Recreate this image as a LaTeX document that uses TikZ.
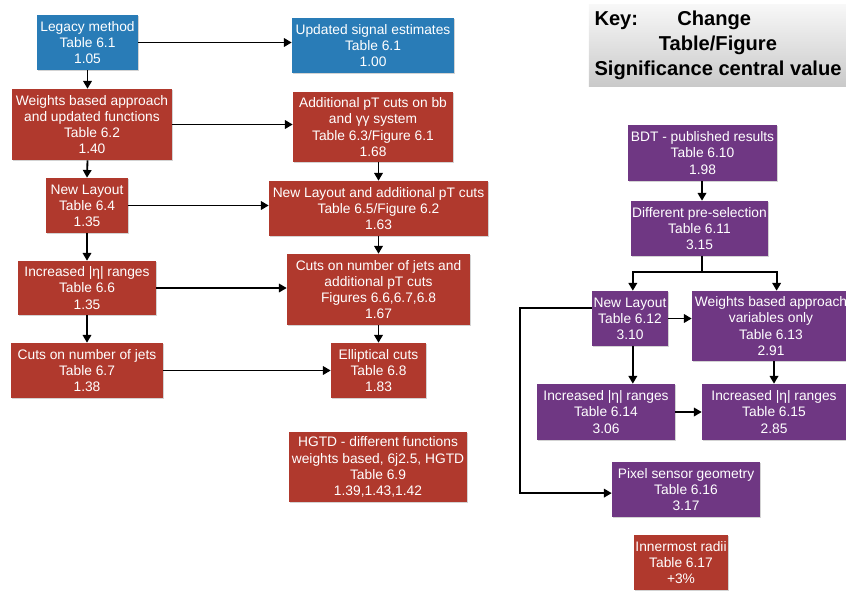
\documentclass[tikz,border=0pt]{standalone}
\usepackage{fontspec}
\setmainfont{Liberation Sans}
\usetikzlibrary{arrows.meta,shadows}
\definecolor{legacy}{RGB}{41,124,183}
\definecolor{cutbased}{RGB}{176,57,45}
\definecolor{bdt}{RGB}{111,55,131}
\newcommand{\pxu}{0.025cm}
\tikzset{
  box/.style={text=white, align=center, inner sep=1pt,
    font=\fontsize{9.8}{11.5}\selectfont,
    drop shadow={shadow xshift=0.8pt, shadow yshift=-1pt, opacity=0.35}},
  sz/.style 2 args={minimum width=#1*\pxu, minimum height=#2*\pxu},
  link/.style={-{Triangle[length=5.5pt,width=6pt]}, line width=1.3pt},
}

\begin{document}
\begin{tikzpicture}[x=\pxu,y=-\pxu]
  \useasboundingbox (0,0) rectangle (846,591);

  % key
  \node[top color=gray!6, bottom color=gray!42, sz={256}{81}, align=left,
        inner xsep=4pt, font=\fontsize{14.3}{17.8}\selectfont\bfseries,
        drop shadow={shadow xshift=0.8pt, shadow yshift=-1pt, opacity=0.3}]
    (key) at (718,45.5)
    {Key:\hspace*{1.95em}Change\\\hspace*{3.2em}Table/Figure\\Significance central value};

  % cut based chain
  \node[box,fill=legacy,sz={101}{55}] (legacy) at (87.5,42.5) {Legacy method\\Table 6.1\\1.05};
  \node[box,fill=legacy,sz={162}{55}] (signal) at (373,45.5) {Updated signal estimates\\Table 6.1\\1.00};
  \node[box,fill=cutbased,sz={160}{71}] (weights) at (92,124.5) {Weights based approach\\and updated functions\\Table 6.2\\1.40};
  \node[box,fill=cutbased,sz={160}{70}] (ptcuts) at (373,127) {Additional pT cuts on bb\\and γγ system\\Table 6.3/Figure 6.1\\1.68};
  \node[box,fill=cutbased,sz={82}{55}] (layout) at (87,205.5) {New Layout\\Table 6.4\\1.35};
  \node[box,fill=cutbased,sz={219}{55}] (layoutpt) at (378.5,208.5) {New Layout and additional pT cuts\\Table 6.5/Figure 6.2\\1.63};
  \node[box,fill=cutbased,sz={138}{54}] (eta) at (87,288) {Increased |η| ranges\\Table 6.6\\1.35};
  \node[box,fill=cutbased,sz={183}{71}] (njetspt) at (378.5,289.5) {Cuts on number of jets and\\additional pT cuts\\Figures 6.6,6.7,6.8\\1.67};
  \node[box,fill=cutbased,sz={152}{55}] (njets) at (87,370.5) {Cuts on number of jets\\Table 6.7\\1.38};
  \node[box,fill=cutbased,sz={95}{55}] (elliptic) at (378.5,370.5) {Elliptical cuts\\Table 6.8\\1.83};
  \node[box,fill=cutbased,sz={178}{70}] (hgtd) at (378,467) {HGTD - different functions\\weights based, 6j2.5, HGTD\\Table 6.9\\1.39,1.43,1.42};

  % BDT chain
  \node[box,fill=bdt,sz={149}{56}] (bdtpub) at (702.5,153) {BDT - published results\\Table 6.10\\1.98};
  \node[box,fill=bdt,sz={135}{55}] (presel) at (699.5,228.5) {Different pre-selection\\Table 6.11\\3.15};
  \node[box,fill=bdt,sz={74}{55}] (bdtlayout) at (630,318.5) {New Layout\\Table 6.12\\3.10};
  \node[box,fill=bdt,sz={158}{70}] (bdtweights) at (771,326) {Weights based approach\\variables only\\Table 6.13\\2.91};
  \node[box,fill=bdt,sz={138}{56}] (bdteta) at (606,412) {Increased |η| ranges\\Table 6.14\\3.06};
  \node[box,fill=bdt,sz={144}{56}] (bdtetaw) at (774,412) {Increased |η| ranges\\Table 6.15\\2.85};
  \node[box,fill=bdt,sz={148}{55}] (pixel) at (686,489.5) {Pixel sensor geometry\\Table 6.16\\3.17};
  \node[box,fill=cutbased,sz={92}{55}] (radii) at (681,562.5) {Innermost radii\\Table 6.17\\+3\%};

  \draw[link] (legacy) -- (legacy -| signal.west);
  \draw[link] (legacy.south) -- (legacy.south |- weights.north);
  \draw[link] (weights) -- (weights -| ptcuts.west);
  \draw[link] (weights.south -| legacy) -- (layout.north);
  \draw[link] (ptcuts.south -| layoutpt) -- (layoutpt.north);
  \draw[link] (layout) -- (layout -| layoutpt.west);
  \draw[link] (layout) -- (eta);
  \draw[link] (layoutpt) -- (njetspt);
  \draw[link] (eta) -- (eta -| njetspt.west);
  \draw[link] (eta) -- (njets);
  \draw[link] (njetspt) -- (elliptic);
  \draw[link] (njets) -- (elliptic);

  \coordinate (fork) at (702,272);
  \draw[link] (bdtpub.south -| fork) -- (presel.north -| fork);
  \draw[line width=1.3pt] (presel.south -| fork) -- (fork);
  \draw[link] (fork) -| ([xshift=2pt]bdtlayout.north);
  \draw[link] (fork) -| ([xshift=4pt]bdtweights.north);
  \draw[link] (bdtlayout) -- (bdtlayout -| bdtweights.west);
  \draw[link] ([xshift=2pt]bdtlayout.south) -- ([xshift=2pt]bdtlayout.south |- bdteta.north);
  \draw[link] (bdtweights.south -| bdtetaw) -- (bdtetaw.north);
  \draw[link] (bdteta) -- (bdtetaw);
  \draw[link] ([yshift=0.26cm]bdtlayout.west) -- ++(-72,0) |- ([yshift=-0.09cm]pixel.west);
\end{tikzpicture}
\end{document}
